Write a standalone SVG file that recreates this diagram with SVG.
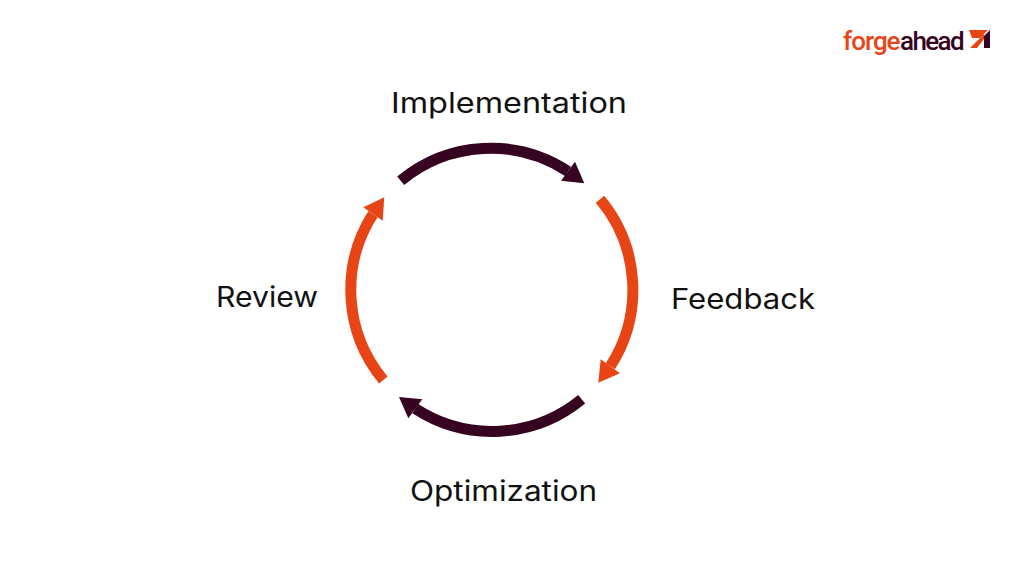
<svg xmlns="http://www.w3.org/2000/svg" width="1024" height="576" viewBox="0 0 1024 576">
<style>
.lbl{font-family:"Inter","Open Sans","Liberation Sans",sans-serif;font-size:28px;fill:#111111}
.arc{fill:none;stroke-width:11}
.dark{stroke:#360320}
.org{stroke:#e84516}
.dh{fill:#360320}
.oh{fill:#e84516}
.logo{font-family:"Roboto","Liberation Sans",sans-serif;font-size:26px;font-weight:500;letter-spacing:-1px}
</style>
<rect width="1024" height="576" fill="#ffffff"/>
<g id="connectors">
<path class="arc dark" d="M400.7 180.7A141 141 0 0 1 568 171.3"/>
<polygon class="dh" points="584.3,183.3 575,161.7 561,180.7"/>
<path class="arc org" d="M600 199.3A141 141 0 0 1 610.3 366.3"/>
<polygon class="oh" points="598.3,382.7 600.7,359.3 620,373.3"/>
<path class="arc dark" d="M581.7 399.3A141 141 0 0 1 415.3 408.7"/>
<polygon class="dh" points="399,397 422.3,399.3 408.3,418.3"/>
<path class="arc org" d="M383.3 380A141 141 0 0 1 373 214"/>
<polygon class="oh" points="384.3,197.3 363.3,207.3 382.7,220.7"/>
</g>
<g id="node-implementation"><text class="lbl" x="391" y="112.5" textLength="236" lengthAdjust="spacingAndGlyphs">Implementation</text></g>
<g id="node-feedback"><text class="lbl" x="671" y="308.5" textLength="144" lengthAdjust="spacingAndGlyphs">Feedback</text></g>
<g id="node-optimization"><text class="lbl" x="410" y="500.5" textLength="187" lengthAdjust="spacingAndGlyphs">Optimization</text></g>
<g id="node-review"><text class="lbl" x="216" y="306.5" textLength="102" lengthAdjust="spacingAndGlyphs">Review</text></g>
<g id="logo">
<text class="logo" x="843" y="49.5" fill="#e84516">forge</text>
<text class="logo" x="900" y="49.5" fill="#360320" style="letter-spacing:-1.6px">ahead</text>
<polygon fill="#e84516" points="969,30 988,30 980,38 972,38"/>
<polygon fill="#e84516" points="970,48 977,48 984,39 984,34"/>
<polygon fill="#360320" points="990,30 984,36 984,48 990,48"/>
</g>
</svg>
